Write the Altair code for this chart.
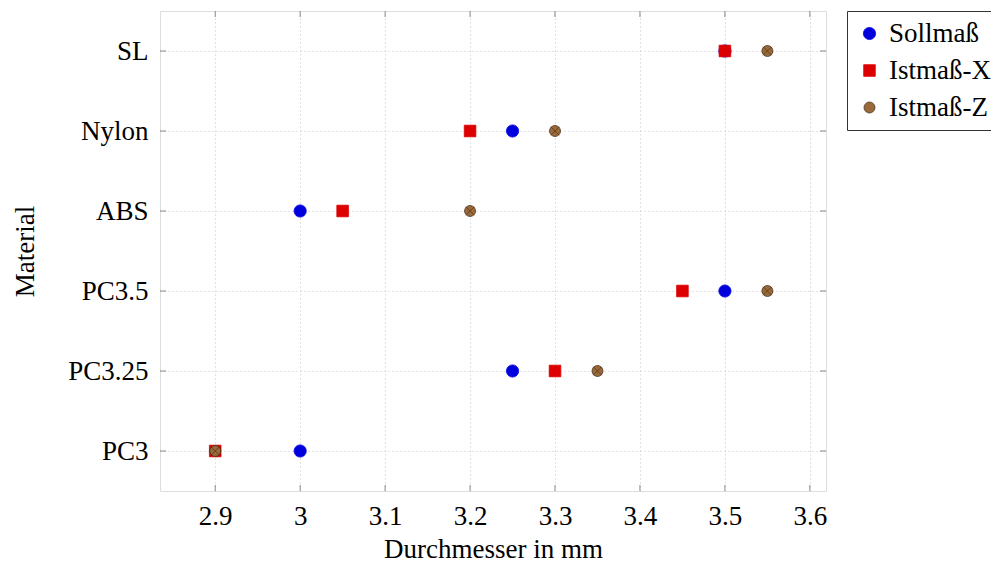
import altair as alt
import pandas as pd

materials = ["PC3", "PC3.25", "PC3.5", "ABS", "Nylon", "SL"]
soll = [3.0, 3.25, 3.5, 3.0, 3.25, 3.5]
ist_x = [2.9, 3.3, 3.45, 3.05, 3.2, 3.5]
ist_z = [2.9, 3.35, 3.55, 3.2, 3.3, 3.55]
series = ["Sollmaß", "Istmaß-X", "Istmaß-Z"]
x_ticks = [2.9, 3.0, 3.1, 3.2, 3.3, 3.4, 3.5, 3.6]

rows = []
for name, vals in zip(series, [soll, ist_x, ist_z]):
    for m, v in zip(materials, vals):
        rows.append({"Material": m, "Serie": name, "Wert": v})
df = pd.DataFrame(rows)
ticks_df = pd.DataFrame({"t": x_ticks})
mat_df = pd.DataFrame({"Material": materials})

FONT = "Liberation Serif"
FS = 27
W, H = 666, 480
xscale = alt.Scale(domain=[2.835, 3.619], nice=False, zero=False)
yscale = alt.Scale(type="point", domain=materials[::-1], padding=0.5)

x_enc = alt.X("Wert:Q", scale=xscale,
              axis=alt.Axis(title="Durchmesser in mm", values=x_ticks, format=".1~f",
                            ticks=False, domain=False, grid=True, gridDash=[1, 3],
                            gridColor="#c4c4c4", labelPadding=12, titlePadding=7,
                            labelFontSize=FS, titleFontSize=FS, labelFont=FONT,
                            titleFont=FONT, labelColor="black", titleColor="black",
                            titleFontWeight="normal", labelFlush=False))
y_enc = alt.Y("Material:N", scale=yscale, sort=materials[::-1],
              axis=alt.Axis(title="Material", ticks=False, domain=False, grid=True,
                            gridDash=[1, 3], gridColor="#c4c4c4", labelPadding=12,
                            labelFontSize=FS, titleFontSize=FS, labelFont=FONT,
                            titleFont=FONT, labelColor="black", titleColor="black",
                            titleFontWeight="normal", titleX=-135, titleY=240,
                            titleAngle=-90, titleBaseline="middle"))

points = alt.Chart(df).mark_point(filled=True, opacity=1, strokeWidth=0.8).encode(
    x=x_enc,
    y=y_enc,
    color=alt.Color("Serie:N", sort=series,
                    scale=alt.Scale(domain=series, range=["#0000dd", "#dd0000", "#9a6a3a"]),
                    legend=alt.Legend(title=None, orient="none", legendX=687, legendY=0,
                                      strokeColor="#333333", fillColor="white",
                                      padding=9, labelFont=FONT, labelFontSize=FS,
                                      labelColor="black", labelOffset=6, rowPadding=9,
                                      symbolSize=130, symbolStrokeWidth=0.8,
                                      labelLimit=300)),
    shape=alt.Shape("Serie:N", sort=series,
                    scale=alt.Scale(domain=series, range=["circle", "square", "circle"])),
    stroke=alt.Stroke("Serie:N", sort=series,
                      scale=alt.Scale(domain=series, range=["#0000dd", "#dd0000", "#4a3018"]),
                      legend=None),
    size=alt.Size("Serie:N", sort=series,
                  scale=alt.Scale(domain=series, range=[150, 120, 150]), legend=None),
    order=alt.Order("ord:Q"),
).transform_calculate(
    ord="datum.Serie == 'Sollmaß' ? 0 : (datum.Serie == 'Istmaß-X' ? 1 : 2)"
)

crosses = alt.Chart(df).transform_filter(alt.datum.Serie == "Istmaß-Z").mark_point(
    shape="M-0.7,-0.7L0.7,0.7M-0.7,0.7L0.7,-0.7", filled=False, stroke="#4a3018",
    strokeWidth=0.7, size=150, opacity=1
).encode(x=alt.X("Wert:Q", scale=xscale), y=alt.Y("Material:N", scale=yscale, sort=materials[::-1]))

tick_color = "#888888"
xt_bottom = alt.Chart(ticks_df).mark_rule(color=tick_color, strokeWidth=1).encode(
    x=alt.X("t:Q", scale=xscale), y=alt.value(H), y2=alt.value(H - 6))
xt_top = alt.Chart(ticks_df).mark_rule(color=tick_color, strokeWidth=1).encode(
    x=alt.X("t:Q", scale=xscale), y=alt.value(0), y2=alt.value(6))
yt_left = alt.Chart(mat_df).mark_rule(color=tick_color, strokeWidth=1).encode(
    y=alt.Y("Material:N", scale=yscale, sort=materials[::-1]), x=alt.value(0), x2=alt.value(6))
yt_right = alt.Chart(mat_df).mark_rule(color=tick_color, strokeWidth=1).encode(
    y=alt.Y("Material:N", scale=yscale, sort=materials[::-1]), x=alt.value(W), x2=alt.value(W - 6))

chart = alt.layer(xt_bottom, xt_top, yt_left, yt_right, points, crosses).properties(
    width=W, height=H,
    padding={"left": 152, "top": 3, "right": 165, "bottom": 72},
    autosize=alt.AutoSizeParams(type="none"),
).configure_view(stroke="#333333", strokeWidth=1.2).configure(background="white")

chart.save("out.html", embed_options={"renderer": "svg", "actions": False})
